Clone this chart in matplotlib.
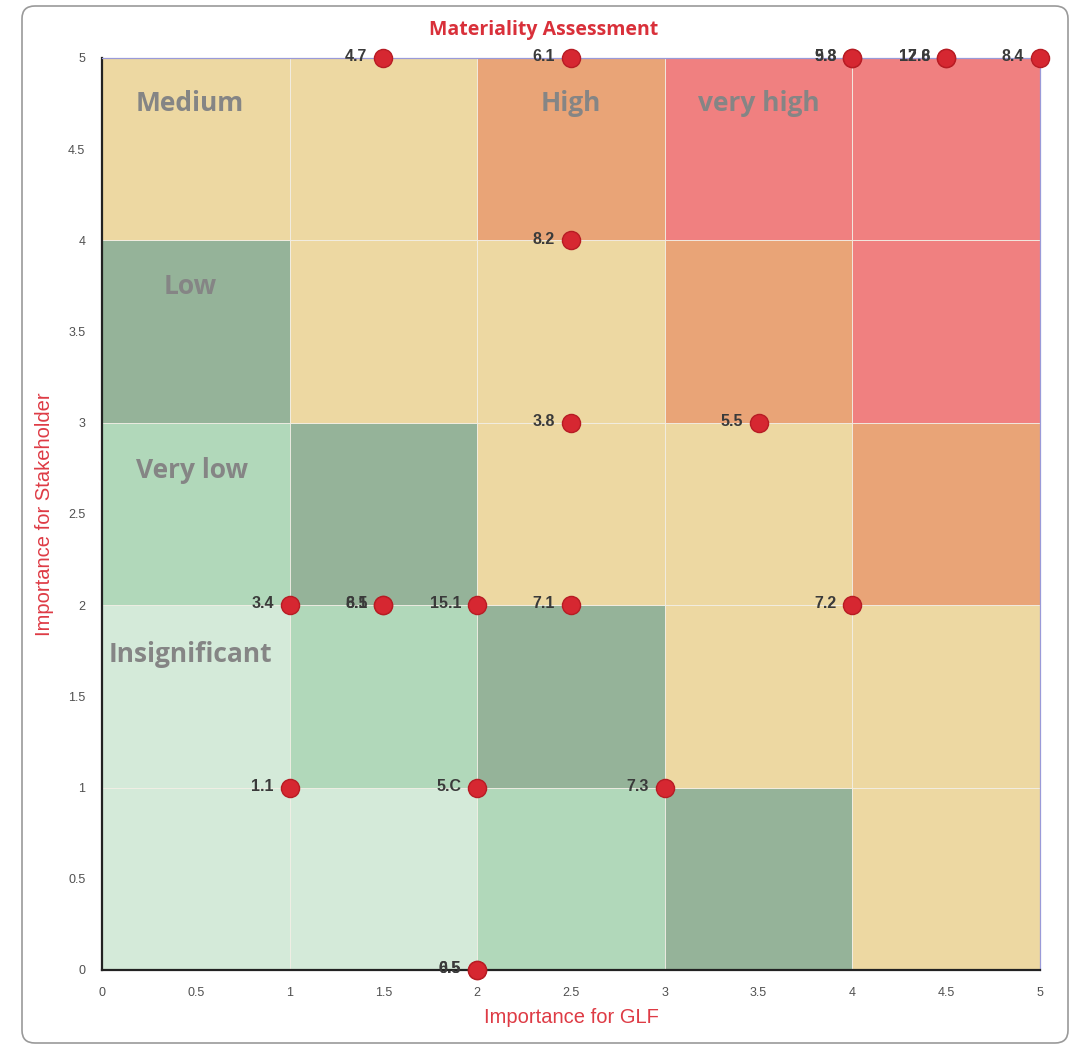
import matplotlib
matplotlib.use("Agg")
import matplotlib.pyplot as plt
from matplotlib.patches import Rectangle, FancyBboxPatch

# Background zone colours per cell (row = y band 0..4, col = x band 0..4)
BEIGE = "#EDD8A2"
ORANGE = "#E9A477"
RED = "#F08080"
DKGREEN = "#95B399"
MDGREEN = "#B1D8BA"
LTGREEN = "#D4EAD9"
cell_colors = [
    [LTGREEN, LTGREEN, MDGREEN, DKGREEN, BEIGE],   # y 0-1
    [LTGREEN, MDGREEN, DKGREEN, BEIGE, BEIGE],     # y 1-2
    [MDGREEN, DKGREEN, BEIGE, BEIGE, ORANGE],      # y 2-3
    [DKGREEN, BEIGE, BEIGE, ORANGE, RED],          # y 3-4
    [BEIGE, BEIGE, ORANGE, RED, RED],              # y 4-5
]

zone_names = ["Medium", "High", "very high", "Low", "Very low", "Insignificant"]
zone_x = [0.47, 2.5, 3.5, 0.47, 0.48, 0.47]
zone_y = [4.75, 4.75, 4.75, 3.75, 2.74, 1.73]

# Data points
glf = [1.5, 2.5, 4, 4, 4.5, 4.5, 5, 2.5, 2.5, 3.5, 1, 1.5, 1.5, 2, 2.5, 4, 1, 2, 3, 2, 2]
stakeholder = [5, 5, 5, 5, 5, 5, 5, 4, 3, 3, 2, 2, 2, 2, 2, 2, 1, 1, 1, 0, 0]
labels = ["4.7", "6.1", "5.8", "9.3", "12.6", "17.8", "8.4", "8.2", "3.8", "5.5",
          "3.4", "6.5", "8.1", "15.1", "7.1", "7.2", "1.1", "5.C", "7.3", "6.5", "0.5"]

ticks = [0, 0.5, 1, 1.5, 2, 2.5, 3, 3.5, 4, 4.5, 5]
tick_labels = ["0", "0.5", "1", "1.5", "2", "2.5", "3", "3.5", "4", "4.5", "5"]

W, H = 1076, 1051
fig = plt.figure(figsize=(W / 100, H / 100), dpi=100)

# outer rounded frame
frame = FancyBboxPatch((22 / W, 8 / H), (1068 - 22) / W, (1045 - 8) / H,
                       boxstyle="round,pad=0,rounding_size=0.012",
                       transform=fig.transFigure, facecolor="none",
                       edgecolor="#9a9a9a", linewidth=1.2, zorder=-1)
fig.patches.append(frame)

ax = fig.add_axes([102 / W, 1 - 970 / H, (1040 - 102) / W, (970 - 58) / H])
ax.set_xlim(0, 5)
ax.set_ylim(0, 5)

for r, row in enumerate(cell_colors):
    for c, col in enumerate(row):
        ax.add_patch(Rectangle((c, r), 1, 1, facecolor=col, edgecolor="#f2efe6",
                               linewidth=0.6, zorder=1, clip_on=False))

for name, zx, zy in zip(zone_names, zone_x, zone_y):
    ax.text(zx, zy, name, ha="center", va="center", fontsize=19, fontweight="bold",
            color="#858585", family="Open Sans", zorder=2)

ax.scatter(glf, stakeholder, s=170, color="#D62731", edgecolors="#B71C24",
           linewidths=1.0, zorder=4, clip_on=False)
for x, y, t in zip(glf, stakeholder, labels):
    ax.annotate(t, (x, y), xytext=(-11.5, 1), textcoords="offset points",
                ha="right", va="center", fontsize=11.5, fontweight="bold",
                color="#3a3a3a", family="Liberation Sans", zorder=5,
                annotation_clip=False)

ax.set_xticks(ticks)
ax.set_xticklabels(tick_labels)
ax.set_yticks(ticks)
ax.set_yticklabels(tick_labels)
ax.tick_params(length=0, labelsize=9, labelcolor="#505050", pad=12)
for lab in ax.get_xticklabels() + ax.get_yticklabels():
    lab.set_family("Liberation Sans")

for s in ["left", "bottom"]:
    ax.spines[s].set_color("#222222")
    ax.spines[s].set_linewidth(1.6)
for s in ["top", "right"]:
    ax.spines[s].set_color("#9a9ad8")
    ax.spines[s].set_linewidth(0.9)

fig.text(544 / W, 1 - 30 / H, "Materiality Assessment", color="#D9303A",
         fontsize=14, fontweight="bold", family="Open Sans",
         ha="center", va="center")
ax.set_xlabel("Importance for GLF", color="#DE3B45", fontsize=14.5,
              family="Liberation Sans", labelpad=7)
ax.set_ylabel("Importance for Stakeholder", color="#DE3B45", fontsize=14.5,
              family="Liberation Sans", labelpad=10)

fig.savefig("out.png", dpi=100)
